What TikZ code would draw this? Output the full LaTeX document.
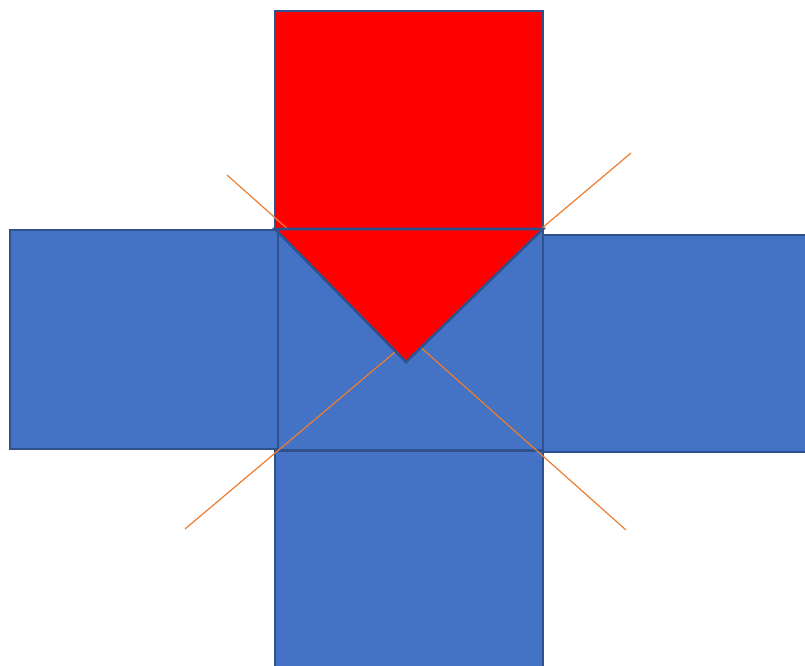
\documentclass[tikz,border=0pt]{standalone}
\definecolor{officeblue}{HTML}{4472C4}
\definecolor{edgeblue}{HTML}{2F528F}
\definecolor{officeorange}{HTML}{ED7D31}
\tikzset{
  bluebox/.style={fill=officeblue, draw=edgeblue, line width=1.9pt},
  redbox/.style={fill=red, draw=edgeblue, line width=1.9pt, line join=miter},
  diag/.style={draw=officeorange, line width=0.9pt}
}
\begin{document}
\begin{tikzpicture}[x=0.75pt,y=-0.75pt]
\useasboundingbox (0,0) rectangle (805,666);
\clip (0,0) rectangle (805,666);
% side and bottom boxes
\draw[bluebox] (10,230) rectangle (278,449);
\draw[bluebox] (543,235) rectangle (820,452);
\draw[bluebox] (275,451) rectangle (543,690);
% centre square
\draw[bluebox] (278,229) rectangle (543,450);
% red upper part
\draw[redbox] (275,11) rectangle (543,229);
% orange diagonals
\coordinate (d1a) at (227,175);
\coordinate (d1b) at (626,530);
\coordinate (d2a) at (631,153);
\coordinate (d2b) at (185,529);
\draw[diag] (d1a) -- (d1b);
\draw[diag] (d2a) -- (d2b);
% red arrow head
\draw[redbox] (275,229) -- (543,229) -- (406,362) -- cycle;
\end{tikzpicture}
\end{document}
